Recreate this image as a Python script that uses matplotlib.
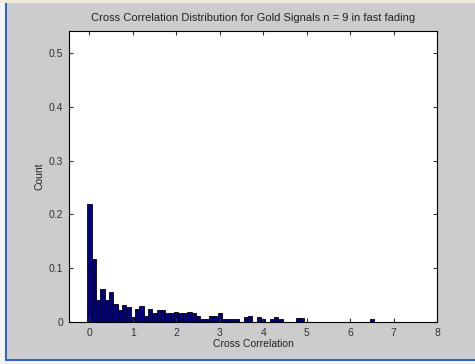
import numpy as np
import matplotlib
matplotlib.use('Agg')
import matplotlib.pyplot as plt
from matplotlib.patches import Rectangle

plt.rcParams['font.family'] = ['Liberation Sans', 'DejaVu Sans']

# histogram bin centres (0.1 spacing) and normalised counts
bin_centers = np.arange(0, 6.6, 0.1)
counts = [0.219, 0.117, 0.040, 0.061, 0.040, 0.055, 0.034, 0.022, 0.031, 0.028,
          0.009, 0.025, 0.029, 0.012, 0.025, 0.016, 0.022, 0.022, 0.016, 0.016,
          0.019, 0.016, 0.016, 0.019, 0.016, 0.012, 0.006, 0.006, 0.012, 0.012,
          0.016, 0.006, 0.006, 0.006, 0.006, 0.0, 0.009, 0.012, 0.0, 0.009,
          0.006, 0.0, 0.006, 0.009, 0.006, 0.0, 0.0, 0.0, 0.008, 0.008,
          0.0, 0.0, 0.0, 0.0, 0.0, 0.0, 0.0, 0.0, 0.0, 0.0,
          0.0, 0.0, 0.0, 0.0, 0.0, 0.006]
x_ticks = [0, 1, 2, 3, 4, 5, 6, 7, 8]
y_ticks = [0, 0.1, 0.2, 0.3, 0.4, 0.5]
y_tick_labels = ['0', '0.1', '0.2', '0.3', '0.4', '0.5']

fig = plt.figure(figsize=(4.75, 3.64), dpi=100)
fig.patch.set_facecolor('#cccccc')

# window frame bits
fig.add_artist(Rectangle((0, 0), 5 / 475, 1, transform=fig.transFigure,
                         facecolor='#f4f4f4', edgecolor='none'))
fig.add_artist(Rectangle((5 / 475, 0), 2 / 475, 1, transform=fig.transFigure,
                         facecolor='#2f62d8', edgecolor='none'))
fig.add_artist(Rectangle((0, 0), 1, 3 / 364, transform=fig.transFigure,
                         facecolor='#f4f4f4', edgecolor='none'))
fig.add_artist(Rectangle((5 / 475, 3 / 364), 1, 2 / 364, transform=fig.transFigure,
                         facecolor='#2f62d8', edgecolor='none'))
fig.add_artist(Rectangle((0, 1 - 3 / 364), 1, 3 / 364, transform=fig.transFigure,
                         facecolor='#ece9d8', edgecolor='none'))

ax = fig.add_axes([69 / 475, 42 / 364, 368 / 475, 291 / 364])
ax.set_facecolor('white')

ax.bar(bin_centers, counts, width=0.1, color='#000080', edgecolor='black', linewidth=0.6)

ax.set_xlim(-0.47, 8)
ax.set_ylim(0, 0.541)
ax.set_xticks(x_ticks)
ax.set_xticklabels([str(t) for t in x_ticks])
ax.set_yticks(y_ticks)
ax.set_yticklabels(y_tick_labels)
ax.tick_params(direction='in', top=True, right=True, length=3, width=0.8,
               labelsize=7.5, labelcolor='#333333', color='#333333', pad=4)
for s in ax.spines.values():
    s.set_linewidth(0.8)
    s.set_color('black')

ax.set_title('Cross Correlation Distribution for Gold Signals n = 9 in fast fading',
             fontsize=8, color='#222222', pad=7)
ax.set_xlabel('Cross Correlation', fontsize=7.5, color='#222222', labelpad=1)
ax.set_ylabel('Count', fontsize=7.5, color='#222222', labelpad=3)

fig.savefig('out.png', dpi=100, facecolor=fig.get_facecolor())
